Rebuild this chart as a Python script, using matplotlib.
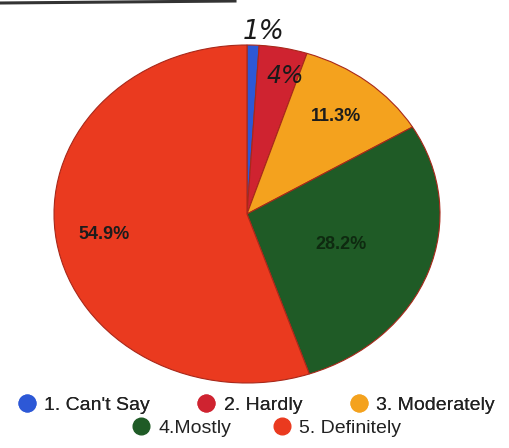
import matplotlib
matplotlib.use("Agg")
import matplotlib.pyplot as plt
from matplotlib.lines import Line2D
import numpy as np

plt.rcParams['font.family'] = ['Liberation Sans', 'DejaVu Sans']

categories = ["1. Can't Say", "2. Hardly", "3. Moderately", "4.Mostly", "5. Definitely"]
values = [1.0, 4.0, 11.3, 28.2, 54.9]
pct_labels = ["1%", "4%", "11.3%", "28.2%", "54.9%"]
colours = ["#2d58d6", "#cf2330", "#f4a21e", "#1f5b26", "#ea3a1f"]

fig = plt.figure(figsize=(5.1, 4.48), dpi=100)
fig.patch.set_facecolor("white")

# pie is squashed into an ellipse (photo perspective)
ax = fig.add_axes([54/510, 1 - 383/448, 386/510, 338/448])
wedges, _ = ax.pie(values, colors=colours, startangle=90, counterclock=False,
                   wedgeprops=dict(linewidth=0.8, edgecolor="#a8281a"))
ax.set_aspect("auto")
ax.set_xlim(-1, 1)
ax.set_ylim(-1, 1)
ax.axis("off")

# label radius / sideways nudge per slice (where they sit in the photo)
label_r = [1.08, 0.83, 0.74, 0.52, 0.75]
label_dx = [0.05, 0.04, 0.0, 0.0, 0.0]
for w, lab, r, dx in zip(wedges, pct_labels, label_r, label_dx):
    ang = np.deg2rad((w.theta1 + w.theta2) / 2)
    x, y = r * np.cos(ang) + dx, r * np.sin(ang)
    if lab in ("1%", "4%"):
        # handwritten notes on the scan
        ax.text(x, y, lab, ha="center", va="center",
                fontsize=19 if lab == "1%" else 17, color="#1a1a1a",
                family=["DejaVu Sans"], style="italic", clip_on=False)
    else:
        ax.text(x, y, lab, ha="center", va="center", fontsize=13,
                fontweight="bold", color="#1c1c1c" if lab != "28.2%" else "#0e2a10")

# dark edge of the scanned page at the top-left
fig.add_artist(Line2D([0, 235/510], [1 - 3/448, 1 - 1/448], color="#333333", lw=2.2))

def handle(c):
    return Line2D([], [], marker="o", linestyle="none", markersize=12,
                  markerfacecolor=c, markeredgecolor=c)

h = [handle(c) for c in colours]
leg1 = fig.legend(h[:3], categories[:3], loc="center", bbox_to_anchor=(0.5, 1 - 405/448),
                  ncol=3, frameon=False, fontsize=14, handletextpad=0.3,
                  columnspacing=2.3, handlelength=1.2, labelcolor="#222222")
leg2 = fig.legend(h[3:], categories[3:], loc="center", bbox_to_anchor=(0.52, 1 - 428/448),
                  ncol=2, frameon=False, fontsize=14, handletextpad=0.3,
                  columnspacing=2.0, handlelength=1.2, labelcolor="#222222")
fig.add_artist(leg1)

fig.savefig("out.png", dpi=100, facecolor="white")
